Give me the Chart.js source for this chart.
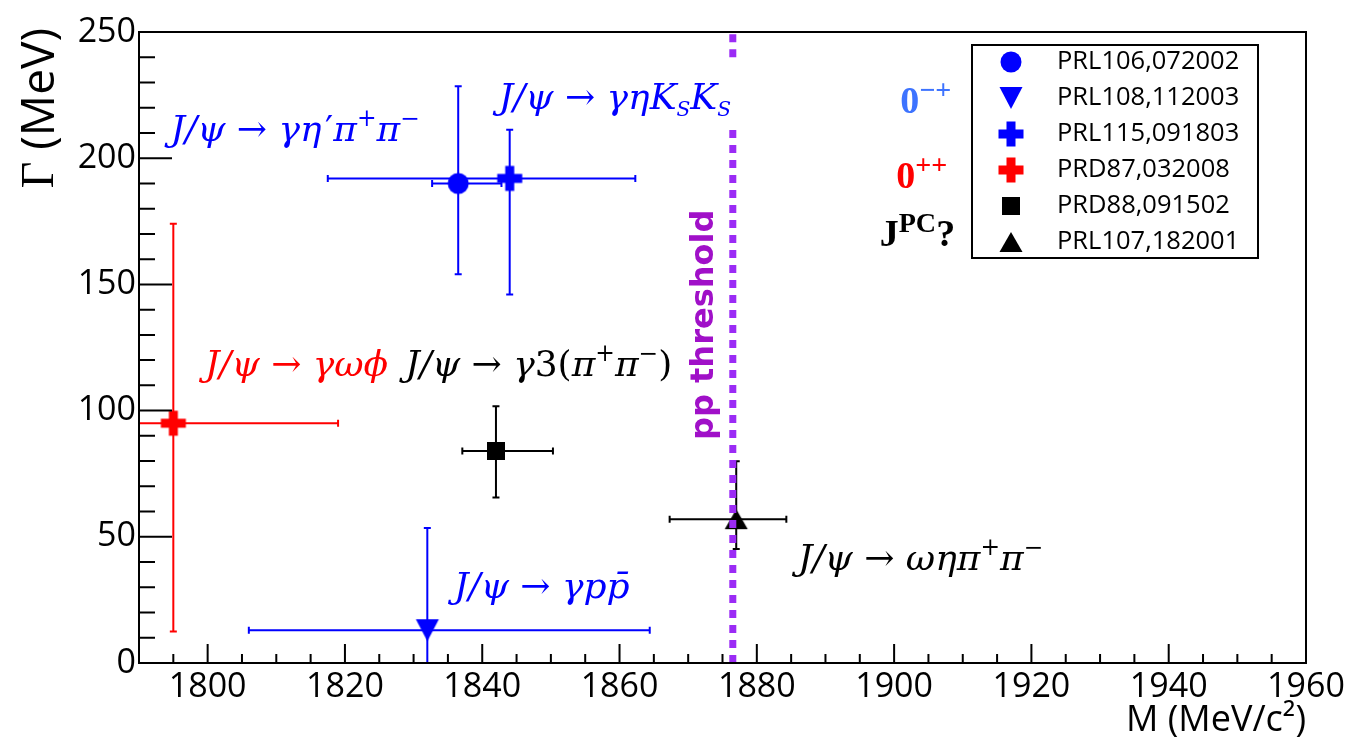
<!DOCTYPE html>
<html>
<head>
<meta charset="utf-8">
<script src="https://cdn.jsdelivr.net/npm/chart.js@4.4.1/dist/chart.umd.min.js"></script>
<style>
  html, body { margin: 0; padding: 0; background: #fff; }
  #wrap { width: 1354px; height: 739px; }
</style>
</head>
<body>
<div id="wrap"><canvas id="chart" width="1354" height="739"></canvas></div>
<script>
const refs = ['PRL106,072002', 'PRL108,112003', 'PRL115,091803', 'PRD87,032008', 'PRD88,091502', 'PRL107,182001'];
const massVals = [1836.5, 1832.0, 1844.0, 1795.0, 1842.0, 1877.0];
const massLo = [1832.7, 1806.0, 1817.5, 1771.0, 1837.1, 1867.3];
const massHi = [1842.8, 1864.4, 1862.3, 1819.0, 1850.3, 1884.3];
const widthVals = [190, 13, 192, 95, 84, 57];
const widthLo = [154, 0, 146, 12.5, 65.6, 45.2];
const widthHi = [228.5, 53.5, 211.3, 174, 101.7, 79.9];

// p pbar threshold, drawn with a break where the label sits
const thresholdMass = 1876.5;
const thresholdWidths = [0, 212, null, 240, 250];

const xMin = 1790, xMax = 1960, xStep = 5, xLabelStep = 20;
const yMin = 0, yMax = 250, yStep = 10, yLabelStep = 50;

const markerKinds = ['circle', 'triDown', 'plus', 'plus', 'square', 'triUp'];
const markerColors = ['#0000ff', '#0000ff', '#0000ff', '#ff0000', '#000000', '#000000'];

// decay-channel notes: [parts, mass, width, color]
const notes = [
  [[['J/ψ ', 'i'], ['→', 'r'], [' γη', 'i'], ['\u200A′', 'r'], ['π', 'i'], ['+', 'sup'], ['π', 'i'], ['−', 'sup']], 1794.6, 207, '#0000ff'],
  [[['J/ψ ', 'i'], ['→', 'r'], [' γη', 'i'], ['K', 'i'], ['S', 'sub'], ['K', 'i'], ['S', 'sub']], 1842.4, 219.6, '#0000ff'],
  [[['J/ψ ', 'i'], ['→', 'r'], [' γωϕ', 'i']], 1799.6, 113.8, '#ff0000'],
  [[['J/ψ ', 'i'], ['→', 'r'], [' γ', 'i'], ['3(', 'r'], ['π', 'i'], ['+', 'sup'], ['π', 'i'], ['−', 'sup'], [')', 'r']], 1828.8, 113.8, '#000000'],
  [[['J/ψ ', 'i'], ['→', 'r'], [' γpp̄', 'i']], 1835.9, 25.9, '#0000ff'],
  [[['J/ψ ', 'i'], ['→', 'r'], [' ωηπ', 'i'], ['+', 'sup'], ['π', 'i'], ['−', 'sup']], 1886.0, 37, '#000000'],
];
const jpcNotes = [
  [[['0', 'b'], ['−+', 'bsup']], 1900.9, 218, '#3d73ff'],
  [[['0', 'b'], ['++', 'bsup']], 1900.3, 188.3, '#ff0000'],
  [[['J', 'b'], ['PC', 'bsup'], ['?', 'b']], 1897.9, 165.3, '#000000'],
];

function makeMarker(kind, color) {
  const s = 28, m = s / 2;
  const c = document.createElement('canvas');
  c.width = s; c.height = s;
  const g = c.getContext('2d');
  g.fillStyle = color;
  g.beginPath();
  if (kind === 'circle') {
    g.arc(m, m, 10.5, 0, Math.PI * 2);
  } else if (kind === 'triDown') {
    g.moveTo(m - 11.5, m - 11); g.lineTo(m + 11.5, m - 11); g.lineTo(m, m + 11);
  } else if (kind === 'triUp') {
    g.moveTo(m - 11.5, m + 10); g.lineTo(m + 11.5, m + 10); g.lineTo(m, m - 10);
  } else if (kind === 'square') {
    g.rect(m - 9, m - 9, 18, 18);
  } else {
    g.rect(m - 12.5, m - 4.5, 25, 9);
    g.rect(m - 4.5, m - 12.5, 9, 25);
  }
  g.fill();
  return c;
}

const markers = markerKinds.map((k, i) => makeMarker(k, markerColors[i]));

function drawRich(ctx, x, y, parts, size, color) {
  ctx.fillStyle = color;
  ctx.textAlign = 'left';
  ctx.textBaseline = 'alphabetic';
  for (const [txt, kind] of parts) {
    let font, dy = 0;
    if (kind === 'i') font = `italic ${size}px "DejaVu Serif"`;
    else if (kind === 'r') font = `${size}px "DejaVu Serif"`;
    else if (kind === 'sup') { font = `${size * 0.65}px "DejaVu Serif"`; dy = -size * 0.4; }
    else if (kind === 'sub') { font = `italic ${size * 0.56}px "DejaVu Serif"`; dy = size * 0.2; }
    else if (kind === 'b') font = `bold ${size}px "Liberation Serif"`;
    else if (kind === 'bsup') { font = `bold ${size * 0.74}px "Liberation Serif"`; dy = -size * 0.36; }
    ctx.font = font;
    ctx.fillText(txt, x, y + dy);
    x += ctx.measureText(txt).width;
  }
}

const decorations = {
  id: 'decorations',
  beforeDatasetsDraw(chart) {
    const { ctx, chartArea: a } = chart;
    const xs = chart.scales.x, ys = chart.scales.y;
    ctx.save();
    ctx.beginPath();
    ctx.rect(a.left, a.top, a.right - a.left, a.bottom - a.top);
    ctx.clip();
    ctx.lineWidth = 2;
    massVals.forEach((m, i) => {
      const px = xs.getPixelForValue(m), py = ys.getPixelForValue(widthVals[i]);
      const x0 = xs.getPixelForValue(massLo[i]), x1 = xs.getPixelForValue(massHi[i]);
      const y0 = ys.getPixelForValue(widthLo[i]), y1 = ys.getPixelForValue(widthHi[i]);
      ctx.strokeStyle = markerColors[i];
      ctx.beginPath();
      ctx.moveTo(x0, py); ctx.lineTo(x1, py);
      ctx.moveTo(x0, py - 3.5); ctx.lineTo(x0, py + 3.5);
      ctx.moveTo(x1, py - 3.5); ctx.lineTo(x1, py + 3.5);
      ctx.moveTo(px, y0); ctx.lineTo(px, y1);
      ctx.moveTo(px - 3.5, y0); ctx.lineTo(px + 3.5, y0);
      ctx.moveTo(px - 3.5, y1); ctx.lineTo(px + 3.5, y1);
      ctx.stroke();
    });
    ctx.restore();
  },
  afterDraw(chart) {
    const { ctx, chartArea: a } = chart;
    const xs = chart.scales.x, ys = chart.scales.y;
    ctx.save();

    // frame
    ctx.strokeStyle = '#000';
    ctx.lineWidth = 2;
    ctx.strokeRect(a.left, a.top, a.right - a.left, a.bottom - a.top);

    // inward ticks
    ctx.beginPath();
    xs.ticks.forEach((t) => {
      const px = xs.getPixelForValue(t.value);
      const len = t.value % xLabelStep === 0 ? 19 : 9;
      ctx.moveTo(px, a.bottom); ctx.lineTo(px, a.bottom - len);
    });
    ys.ticks.forEach((t) => {
      const py = ys.getPixelForValue(t.value);
      const len = t.value % yLabelStep === 0 ? 33 : 16;
      ctx.moveTo(a.left, py); ctx.lineTo(a.left + len, py);
    });
    ctx.stroke();

    // channel notes
    notes.forEach(([parts, m, w, color]) => {
      drawRich(ctx, xs.getPixelForValue(m), ys.getPixelForValue(w), parts, 36, color);
    });
    jpcNotes.forEach(([parts, m, w, color]) => {
      drawRich(ctx, xs.getPixelForValue(m), ys.getPixelForValue(w), parts, 38, color);
    });

    // threshold label
    ctx.save();
    ctx.translate(xs.getPixelForValue(1872.4), ys.getPixelForValue(134));
    ctx.rotate(-Math.PI / 2);
    ctx.font = 'bold 32px "DejaVu Sans"';
    ctx.fillStyle = '#a010c8';
    ctx.textAlign = 'center';
    ctx.textBaseline = 'middle';
    ctx.fillText('pp threshold', 0, 0);
    ctx.restore();

    // legend box
    const lx = 972, ly = 45, lw = 286, lh = 213;
    ctx.fillStyle = '#fff';
    ctx.fillRect(lx, ly, lw, lh);
    ctx.strokeStyle = '#000';
    ctx.lineWidth = 2;
    ctx.strokeRect(lx, ly, lw, lh);
    ctx.font = '25.5px "Open Sans"';
    ctx.textAlign = 'left';
    ctx.textBaseline = 'middle';
    refs.forEach((r, i) => {
      const cy = ly + 17 + i * 36;
      ctx.drawImage(markers[i], lx + 39 - 14, cy - 14);
      ctx.fillStyle = '#000';
      ctx.fillText(r, lx + 85, cy);
    });

    // axis titles
    ctx.fillStyle = '#000';
    ctx.font = '36px "Open Sans"';
    ctx.textAlign = 'right';
    ctx.textBaseline = 'bottom';
    ctx.fillText('M (MeV/c²)', a.right, 739);

    ctx.save();
    ctx.translate(41, a.top - 4);
    ctx.rotate(-Math.PI / 2);
    ctx.textAlign = 'right';
    ctx.textBaseline = 'middle';
    ctx.font = '46px "Open Sans"';
    const rest = ' (MeV)';
    const restW = ctx.measureText(rest).width;
    ctx.fillText(rest, 0, 0);
    ctx.font = '46px "Liberation Serif"';
    ctx.fillText('Γ', -restW, 0);
    ctx.restore();

    ctx.restore();
  },
};

const datasets = [
  {
    type: 'line',
    label: 'threshold',
    data: thresholdWidths.map((w) => ({ x: thresholdMass, y: w })),
    borderColor: '#9b2bf5',
    borderWidth: 7,
    borderDash: [8, 7],
    borderCapStyle: 'butt',
    pointRadius: 0,
    spanGaps: false,
    fill: false,
  },
];
refs.forEach((r, i) => {
  datasets.push({
    type: 'scatter',
    label: r,
    data: [{ x: massVals[i], y: widthVals[i] }],
    pointStyle: markers[i],
    pointRadius: 12,
  });
});

const tickFont = { family: 'Open Sans', size: 34 };

new Chart(document.getElementById('chart'), {
  type: 'scatter',
  data: { datasets },
  options: {
    responsive: false,
    animation: false,
    layout: { padding: { left: 0, right: 48, top: 32, bottom: 0 } },
    plugins: { legend: { display: false }, tooltip: { enabled: false } },
    scales: {
      x: {
        type: 'linear',
        min: xMin,
        max: xMax,
        grid: { display: false, drawTicks: false },
        border: { display: false },
        ticks: {
          stepSize: xStep,
          autoSkip: false,
          maxRotation: 0,
          padding: 4,
          color: '#000',
          font: tickFont,
          callback: (v) => (v % xLabelStep === 0 ? String(v) : ''),
        },
        afterFit: (s) => { s.height = 76; },
      },
      y: {
        type: 'linear',
        min: yMin,
        max: yMax,
        grid: { display: false, drawTicks: false },
        border: { display: false },
        ticks: {
          stepSize: yStep,
          autoSkip: false,
          padding: 3,
          color: '#000',
          font: tickFont,
          callback: (v) => (v % yLabelStep === 0 ? String(v) : ''),
        },
        afterFit: (s) => { s.width = 139; },
      },
    },
  },
  plugins: [decorations],
});
</script>
</body>
</html>
